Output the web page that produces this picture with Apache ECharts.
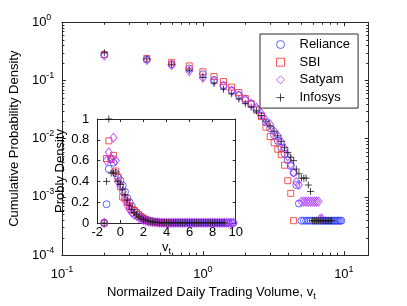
<!DOCTYPE html>
<html><head><meta charset="utf-8">
<script src="https://cdn.jsdelivr.net/npm/echarts@6/dist/echarts.min.js"></script>
<style>html,body{margin:0;padding:0;background:#fff}#c{width:407px;height:306px}</style>
</head><body><div id="c"></div>
<script>
// ---------- DATA ----------
const seriesNames = ['Reliance', 'SBI', 'Satyam', 'Infosys'];

// Main plot (log-log)
const relX = [0.2,0.4,0.6,0.8,1.0,1.2,1.4,1.6,1.8,2.0,2.2,2.4,2.6,2.8,3.0,3.2,3.4,3.6,3.8,4.0,4.2,4.4,4.6,4.8,5.0,5.2,5.4,5.6,5.8,6.0,6.2,6.4,6.6,6.8,7.0,7.2,7.4,7.6,7.8,8.0,8.2,8.4,8.6,8.8,9.0,9.2,9.4,9.6];
const relY = [0.28,0.23,0.19,0.16,0.128,0.102,0.083,0.068,0.056,0.046,0.039,0.032,0.025,0.019,0.015,0.0115,0.0092,0.0070,0.0055,0.0043,0.0034,0.0026,0.0016,0.00077,
  0.00039,0.00039,0.00039,0.00039,0.00039,0.00039,0.00039,0.00039,0.00039,0.00039,0.00039,0.00039,0.00039,0.00039,0.00039,0.00039,0.00039,0.00039,0.00039,0.00039,0.00039,0.00039,0.00039,0.00039];

const sbiX = [0.2,0.4,0.6,0.8,1.0,1.2,1.4,1.6,1.8,2.0,2.2,2.4,2.6,2.8,3.0,3.2,3.4,3.6,3.8,4.0,4.2,4.4];
const sbiY = [0.28,0.24,0.205,0.178,0.141,0.117,0.096,0.077,0.062,0.049,0.040,0.031,0.024,0.0158,0.0109,0.0085,0.0066,0.0053,0.0035,0.0019,0.00115,0.00039];

const satX = [0.2,0.4,0.6,0.8,1.0,1.2,1.4,1.6,1.8,2.0,2.2,2.4,2.6,2.8,3.0,3.2,3.4,3.6,3.8,4.0,4.2,4.4,4.6,4.8,5.0,5.2,5.4,5.6,5.8,6.0,6.2,6.4,6.6,6.8,7.0];
const satY = [0.27,0.225,0.185,0.145,0.112,0.098,0.080,0.066,0.055,0.047,0.040,0.034,0.027,0.021,0.0175,0.0135,0.0112,0.0088,0.0068,0.0050,0.0036,0.0026,0.0018,0.0016,
  0.00083,0.00083,0.00083,0.00083,0.00083,0.00083,0.00083,0.00083,0.00083,0.00042,0.00042];

const infX = [0.2,0.4,0.6,0.8,1.0,1.2,1.4,1.6,1.8,2.0,2.2,2.4,2.6,2.8,3.0,3.2,3.4,3.6,3.8,4.0,4.2,4.4,4.6,4.8,5.0,5.2,5.4,5.6,5.8,6.0,6.2,6.4,6.6,6.8,7.0,7.2,7.4,7.6,7.8,8.0,8.2];
const infY = [0.30,0.235,0.19,0.15,0.113,0.090,0.071,0.059,0.048,0.040,0.035,0.030,0.025,0.020,0.0165,0.0135,0.0112,0.0090,0.0070,0.0058,0.0048,0.0042,0.0030,0.0025,0.0021,0.0021,0.0021,0.0016,0.00124,
  0.00039,0.00039,0.00039,0.00039,0.00039,0.00039,0.00039,0.00039,0.00039,0.00039,0.00039,0.00039];

// Inset (linear)
const insetX = [-1.4,-1.2,-1.0,-0.8,-0.6,-0.4,-0.2,0.0,0.2,0.4,0.6,0.8,1.0,1.2,1.4,1.6,1.8,2.0,2.2,2.4,2.6,2.8,3.0,3.2,3.4,3.6,3.8,4.0,4.2,4.4,4.6,4.8,5.0,5.2,5.4,5.6,5.8,6.0,6.2,6.4,6.6,6.8,7.0,7.2,7.4,7.6,7.8,8.0,8.2,8.4,8.6,8.8,9.0,9.2,9.4,9.6,9.8];
const relInsetY = [0,0.18,0.52,0.62,0.58,0.48,0.44,0.41,0.36,0.30,0.24,0.20,0.16,0.12,0.10,0.08,0.06,0.045,0.034,0.026,0.020,0.015,0.011,0.008,0.006,0.004,0.003,
  0.002,0.002,0.002,0.002,0.002,0.002,0.002,0.002,0.002,0.002,0.002,0.002,0.002,0.002,0.002,0.002,0.002,0.002,0.002,0.002,0.002,0.002,0.002,0.002,0.002,0.002,0.002,0.002,0.002,0.002];
const sbiInsetY = [0,0.62,0.79,0.61,0.65,0.50,0.44,0.35,0.25,0.24,0.20,0.16,0.13,0.12,0.10,0.08,0.06,0.045,0.032,0.022,0.015,0.010,0.007,0.005,0.004,0.003,0.002,0.002,0.002,0.002];
const satInsetY = [0,0.60,0.68,0.62,0.82,0.60,0.40,0.36,0.30,0.22,0.17,0.13,0.10,0.08,0.07,0.05,0.04,0.03,0.022,0.016,0.012,0.009,0.007,0.005,
  0.003,0.003,0.003,0.003,0.003,0.003,0.003,0.003,0.003,0.003,0.003,0.003,0.003,0.003,0.003,0.003,0.003,0.003,0.003,0.003,0.003,0.003,0.003,0.003,0.003,0.003,0.003,0.003,0.003,0.003,0.003,0.003,0.003];
const infInsetY = [0,0.40,1.0,0.48,0.48,0.49,0.40,0.37,0.32,0.27,0.22,0.17,0.13,0.10,0.08,0.06,0.045,0.035,0.027,0.020,0.015,0.011,0.008,0.006,
  0.002,0.002,0.002,0.002,0.002,0.002,0.002,0.002,0.002,0.002,0.002,0.002,0.002,0.002,0.002,0.002,0.002,0.002,0.002,0.002,0.002,0.002,0.002,0.002,0.002,0.002,0.002,0.002,0.002];

// Axis settings
const mainXMin = 0.1, mainXMax = 15;
const mainYMin = 1e-4, mainYMax = 1;
const insetXMin = -2, insetXMax = 10, insetXStep = 2;
const insetYMin = 0, insetYMax = 1, insetYStep = 0.2;

// ---------- STYLE ----------
const FONT = '"Liberation Sans", Arial, Helvetica, sans-serif';
const AXC = '#2a2a2a';
const colors = { Reliance: '#3040ff', SBI: '#ff2a2a', Satyam: '#b236ff', Infosys: '#1a1a1a' };
const symbols = { Reliance: 'circle', SBI: 'rect', Satyam: 'diamond', Infosys: 'path://M5,0L5,10M0,5L10,5' };
const sizes = { Reliance: 7, SBI: 6, Satyam: [7, 9], Infosys: 7 };

const mainData = { Reliance: [relX, relY], SBI: [sbiX, sbiY], Satyam: [satX, satY], Infosys: [infX, infY] };
const insetData = { Reliance: relInsetY, SBI: sbiInsetY, Satyam: satInsetY, Infosys: infInsetY };

function zip(xs, ys) { return ys.map((y, i) => [xs[i], y]); }

function supLabel(v) {
  const l = Math.log10(v);
  const e = Math.round(l);
  if (Math.abs(l - e) > 1e-6) return '';
  return '{b|10}{s|' + e + '}';
}
const supRich = {
  b: { fontSize: 13, fontFamily: FONT, color: '#000' },
  s: { fontSize: 9, fontFamily: FONT, color: '#000', padding: [0, 0, 10, 0] }
};

// minor tick positions for log axes
const minorXVals = [];
for (let e = -1; e <= 1; e++) for (let m = 2; m <= 9; m++) { const v = m * Math.pow(10, e); if (v < mainXMax) minorXVals.push(v); }
const minorYVals = [];
for (let e = -4; e <= -1; e++) for (let m = 2; m <= 9; m++) minorYVals.push(m * Math.pow(10, e));

function crisp(v) { return Math.round(v) + 0.5; }

const series = [];
seriesNames.forEach(n => {
  series.push({
    name: n, type: 'scatter', xAxisIndex: 0, yAxisIndex: 0,
    data: zip(mainData[n][0], mainData[n][1]),
    symbol: symbols[n], symbolSize: sizes[n],
    itemStyle: { color: 'rgba(0,0,0,0)', borderColor: colors[n], borderWidth: 1 },
    emphasis: { disabled: true }, silent: true, clip: false, z: 3
  });
});
seriesNames.forEach(n => {
  series.push({
    name: n, type: 'scatter', xAxisIndex: 2, yAxisIndex: 2,
    data: zip(insetX, insetData[n]),
    symbol: symbols[n], symbolSize: sizes[n],
    itemStyle: { color: 'rgba(0,0,0,0)', borderColor: colors[n], borderWidth: 1 },
    emphasis: { disabled: true }, silent: true, clip: false, z: 5
  });
});
// minor ticks (log axes), drawn through the axis scales
series.push({
  type: 'custom', xAxisIndex: 0, yAxisIndex: 0, silent: true, clip: false, z: 4,
  data: minorXVals.map(v => [v, 0.01]),
  renderItem: (params, api) => {
    const v = api.value(0);
    const pb = api.coord([v, mainYMin]), pt = api.coord([v, mainYMax]);
    const x = crisp(pb[0]);
    return { type: 'group', children: [
      { type: 'line', shape: { x1: x, y1: pb[1], x2: x, y2: pb[1] - 2.5 }, style: { stroke: AXC, lineWidth: 1 } },
      { type: 'line', shape: { x1: x, y1: pt[1], x2: x, y2: pt[1] + 2.5 }, style: { stroke: AXC, lineWidth: 1 } }
    ] };
  }
});
series.push({
  type: 'custom', xAxisIndex: 0, yAxisIndex: 0, silent: true, clip: false, z: 4,
  data: minorYVals.map(v => [1, v]),
  renderItem: (params, api) => {
    const v = api.value(1);
    const pl = api.coord([mainXMin, v]), pr = api.coord([mainXMax, v]);
    const y = crisp(pl[1]);
    return { type: 'group', children: [
      { type: 'line', shape: { x1: pl[0], y1: y, x2: pl[0] + 2.5, y2: y }, style: { stroke: AXC, lineWidth: 1 } },
      { type: 'line', shape: { x1: pr[0], y1: y, x2: pr[0] - 2.5, y2: y }, style: { stroke: AXC, lineWidth: 1 } }
    ] };
  }
});

const axLine = { show: true, onZero: false, lineStyle: { color: AXC, width: 1 } };
const tickIn = (len) => ({ show: true, inside: true, length: len, lineStyle: { color: AXC, width: 1 } });

const option = {
  animation: false,
  backgroundColor: '#fff',
  textStyle: { fontFamily: FONT },
  grid: [
    { left: 53.3, top: 22.3, width: 315.4, height: 240, containLabel: false },
    { left: 97.3, top: 119, width: 138.4, height: 104, show: true, backgroundColor: '#fff', borderWidth: 0, containLabel: false }
  ],
  legend: {
    left: 260, top: 34, orient: 'vertical',
    backgroundColor: '#fff', borderColor: AXC, borderWidth: 1, borderRadius: 0,
    padding: [4, 8, 4, 16],
    itemWidth: 8, itemHeight: 8, itemGap: 4.7,
    textStyle: { fontSize: 13, fontFamily: FONT, color: '#000', lineHeight: 13, padding: [0, 0, 0, 10] },
    selectedMode: false,
    data: seriesNames.map(n => ({
      name: n, icon: symbols[n],
      itemStyle: { color: 'rgba(0,0,0,0)', borderColor: colors[n], borderWidth: 1 }
    }))
  },
  xAxis: [
    {
      type: 'log', gridIndex: 0, min: mainXMin, max: mainXMax, logBase: 10,
      axisLine: axLine, axisTick: tickIn(4), splitLine: { show: false },
      axisLabel: { margin: 10, formatter: supLabel, rich: supRich, showMinLabel: true, showMaxLabel: true },
      name: '{a|Normailzed Daily Trading Volume, v}{t|t}', nameLocation: 'middle', nameGap: 21,
      nameTextStyle: { fontSize: 13, fontFamily: FONT, color: '#000', padding: [0, 8, 0, 0],
        rich: { a: { fontSize: 13, fontFamily: FONT, color: '#000' }, t: { fontSize: 9, fontFamily: FONT, color: '#000', padding: [8, 0, 0, 0] } } }
    },
    {
      type: 'log', gridIndex: 0, position: 'top', min: mainXMin, max: mainXMax, logBase: 10,
      axisLine: axLine, axisTick: tickIn(4), axisLabel: { show: false }, splitLine: { show: false }
    },
    {
      type: 'value', gridIndex: 1, min: insetXMin, max: insetXMax, interval: insetXStep,
      axisLine: axLine, axisTick: tickIn(3), splitLine: { show: false },
      axisLabel: { margin: 3, fontSize: 13, fontFamily: FONT, color: '#000' },
      name: '{a|v}{t|t}', nameLocation: 'middle', nameGap: 16,
      nameTextStyle: { fontSize: 13, fontFamily: FONT, color: '#000',
        rich: { a: { fontSize: 13, fontFamily: FONT, color: '#000' }, t: { fontSize: 9, fontFamily: FONT, color: '#000', padding: [8, 0, 0, 0] } } }
    },
    {
      type: 'value', gridIndex: 1, position: 'top', min: insetXMin, max: insetXMax, interval: insetXStep,
      axisLine: axLine, axisTick: tickIn(3), axisLabel: { show: false }, splitLine: { show: false }
    }
  ],
  yAxis: [
    {
      type: 'log', gridIndex: 0, min: mainYMin, max: mainYMax, logBase: 10,
      axisLine: axLine, axisTick: tickIn(4), splitLine: { show: false },
      axisLabel: { margin: 30, align: 'left', formatter: supLabel, rich: supRich, showMinLabel: true, showMaxLabel: true },
      name: 'Cumulative Probability Density', nameLocation: 'middle', nameGap: 32, nameRotate: 90,
      nameTextStyle: { fontSize: 13, fontFamily: FONT, color: '#000' }
    },
    {
      type: 'log', gridIndex: 0, position: 'right', min: mainYMin, max: mainYMax, logBase: 10,
      axisLine: axLine, axisTick: tickIn(4), axisLabel: { show: false }, splitLine: { show: false }
    },
    {
      type: 'value', gridIndex: 1, min: insetYMin, max: insetYMax, interval: insetYStep,
      axisLine: axLine, axisTick: tickIn(3), splitLine: { show: false },
      axisLabel: { margin: 8, fontSize: 13, fontFamily: FONT, color: '#000', formatter: v => String(Math.round(v * 10) / 10) },
      name: 'Probly Density', nameLocation: 'middle', nameGap: 25, nameRotate: 90,
      nameTextStyle: { fontSize: 13, fontFamily: FONT, color: '#000' }
    },
    {
      type: 'value', gridIndex: 1, position: 'right', min: insetYMin, max: insetYMax, interval: insetYStep,
      axisLine: axLine, axisTick: tickIn(3), axisLabel: { show: false }, splitLine: { show: false }
    }
  ],
  series: series
};

const chart = echarts.init(document.getElementById('c'), null, { renderer: 'canvas' });
chart.setOption(option);
</script>
</body></html>
